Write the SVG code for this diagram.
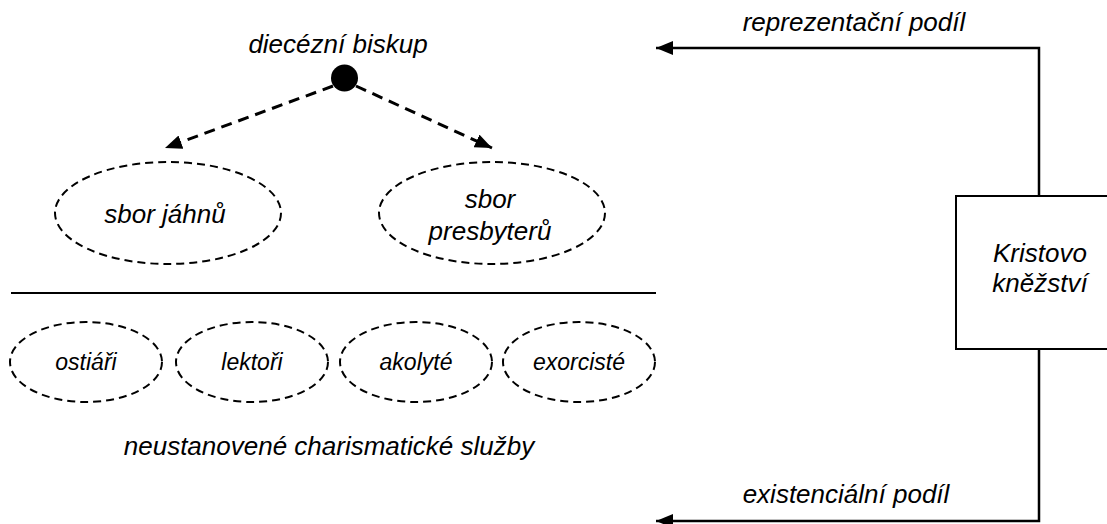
<svg xmlns="http://www.w3.org/2000/svg" width="1107" height="524" viewBox="0 0 1107 524">
<style>
text{font-family:"Liberation Sans",Arial,sans-serif;font-style:italic;fill:#000;text-anchor:middle}
.big{font-size:26px}
.small{font-size:23px}
.dell{fill:none;stroke:#000;stroke-width:2;stroke-dasharray:8 5}
.dline{fill:none;stroke:#000;stroke-width:3;stroke-dasharray:11 7}
.sline{fill:none;stroke:#000;stroke-width:2.5}
</style>
<defs>
<marker id="ah" markerUnits="userSpaceOnUse" markerWidth="18" markerHeight="16" refX="17" refY="7" orient="auto">
<path d="M0,0 L17,7 L0,14 z" fill="#000"/>
</marker>
</defs>
<g id="connectors">
<line class="dline" x1="333" y1="86" x2="165" y2="148" marker-end="url(#ah)"/>
<line class="dline" x1="356" y1="86" x2="492" y2="148" marker-end="url(#ah)"/>
<path class="sline" d="M1039,196 V48 H656" marker-end="url(#ah)"/>
<path class="sline" d="M1039,349 V521 H656" marker-end="url(#ah)"/>
<line x1="11" y1="293" x2="656" y2="293" stroke="#000" stroke-width="2"/>
</g>
<g id="biskup">
<circle cx="344.5" cy="78" r="13.5" fill="#000"/>
<text class="big" x="338" y="53">diecézní biskup</text>
</g>
<g id="jahni">
<ellipse class="dell" cx="168" cy="213" rx="113" ry="51"/>
<text class="big" x="165" y="223">sbor jáhnů</text>
</g>
<g id="presbyteri">
<ellipse class="dell" cx="492" cy="213" rx="113" ry="51"/>
<text class="big" x="490" y="208">sbor</text>
<text class="big" x="490" y="240">presbyterů</text>
</g>
<g id="ostiari">
<ellipse class="dell" cx="86" cy="362" rx="76" ry="40"/>
<text class="small" x="86" y="370">ostiáři</text>
</g>
<g id="lektori">
<ellipse class="dell" cx="252" cy="362" rx="76" ry="40"/>
<text class="small" x="252" y="370">lektoři</text>
</g>
<g id="akolyte">
<ellipse class="dell" cx="416" cy="362" rx="76" ry="40"/>
<text class="small" x="416" y="370">akolyté</text>
</g>
<g id="exorciste">
<ellipse class="dell" cx="579" cy="362" rx="76" ry="40"/>
<text class="small" x="579" y="370">exorcisté</text>
</g>
<g id="sluzby">
<text class="big" x="329" y="455">neustanovené charismatické služby</text>
</g>
<g id="kristus">
<rect x="956" y="196" width="170" height="153" fill="#fff" stroke="#000" stroke-width="2"/>
<text class="big" x="1040" y="262">Kristovo</text>
<text class="big" x="1040" y="292">kněžství</text>
</g>
<g id="labels">
<text class="big" x="854" y="31">reprezentační podíl</text>
<text class="big" x="846" y="503">existenciální podíl</text>
</g>
</svg>
